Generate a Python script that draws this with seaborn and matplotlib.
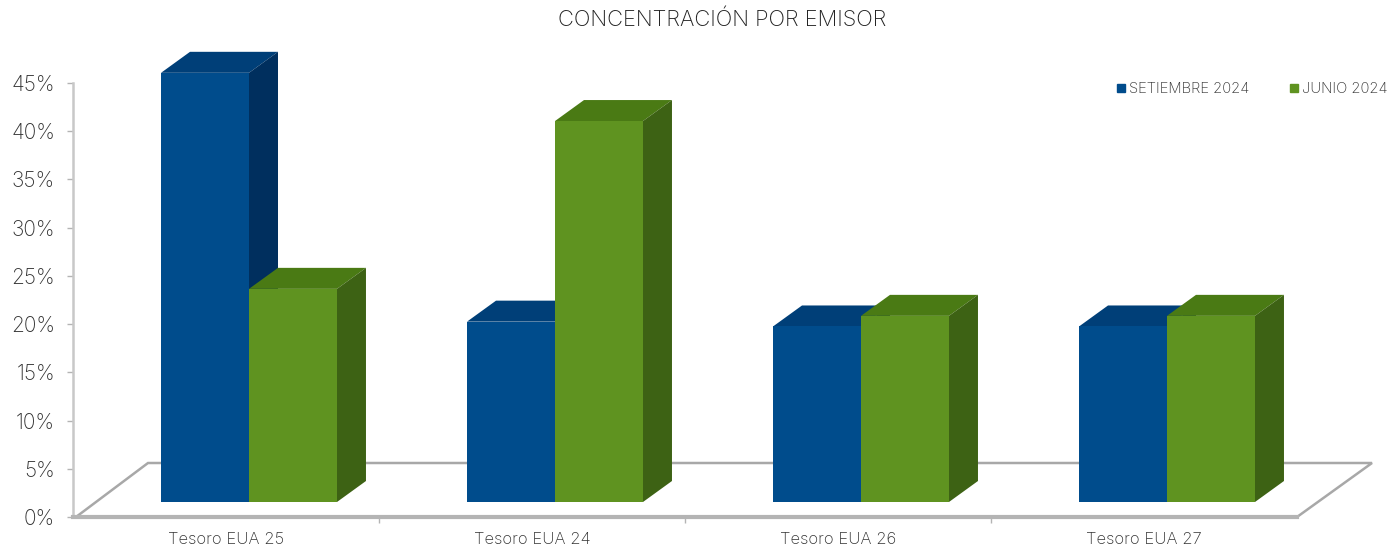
import pandas as pd
import seaborn as sns
import matplotlib.pyplot as plt
from matplotlib.patches import Polygon
from matplotlib.lines import Line2D

# Data
categories = ['Tesoro EUA 25', 'Tesoro EUA 24', 'Tesoro EUA 26', 'Tesoro EUA 27']
setiembre = [44.5, 18.7, 18.2, 18.2]
junio = [22.1, 39.5, 19.3, 19.3]
series_names = ['SETIEMBRE 2024', 'JUNIO 2024']
y_ticks = [0, 5, 10, 15, 20, 25, 30, 35, 40, 45]
y_tick_labels = ['0%', '5%', '10%', '15%', '20%', '25%', '30%', '35%', '40%', '45%']

blue = '#004C8C'
blue_top = '#003F78'
blue_side = '#002F5E'
green = '#5F9320'
green_top = '#4A7A14'
green_side = '#3D6214'
axis_gray = '#B4B4B4'
text_gray = '#333333'

sns.set_style('white')
plt.rcParams['font.family'] = ['Inter', 'DejaVu Sans']
plt.rcParams['font.weight'] = 'light'

Data = pd.DataFrame({
    'emisor': categories * 2,
    'valor': setiembre + junio,
    'serie': [series_names[0]] * 4 + [series_names[1]] * 4,
})

W, H = 1391, 549
fig = plt.figure(figsize=(W / 100, H / 100), dpi=100)
ax = fig.add_axes([73 / W, 1 - 517 / H, (1297 - 73) / W, (517 - 83) / H])

sns.barplot(data=Data, x='emisor', y='valor', hue='serie', hue_order=series_names,
            palette=[blue, green], width=0.575, saturation=1, linewidth=0,
            errorbar=None, ax=ax, zorder=3)
ax.set_xlim(-0.5, 3.5)
ax.set_ylim(0, 45)

# pixels -> data
px_x = 4 / (1297 - 73)
px_y = 45 / (517 - 83)
shift = 23 * px_x
floor = 15 * px_y
dx = 29 * px_x
dy = 21 * px_y
floor_dx = 75 * px_x
floor_dy = 54 * px_y

# floor of the 3d box
ax.plot([-0.5 + 3 * px_x, -0.5 + floor_dx, 3.5 + floor_dx, 3.5], [0, floor_dy, floor_dy, 0],
        color='#A8A8A8', lw=1.8, clip_on=False, zorder=1, solid_joinstyle='miter')

# 3d extrusion of each seaborn bar
bars = [b for b in ax.patches]
for n, bar in enumerate(bars):
    is_blue = n < 4
    z = 3 if is_blue else 4
    x0 = bar.get_x() + shift
    w = bar.get_width()
    top = bar.get_height() + floor
    bar.set_x(x0)
    bar.set_y(floor)
    bar.set_zorder(z + 0.5)
    bar.set_clip_on(False)
    ax.add_patch(Polygon([(x0, top), (x0 + dx, top + dy), (x0 + w + dx, top + dy), (x0 + w, top)],
                         facecolor=blue_top if is_blue else green_top, lw=0, clip_on=False, zorder=z))
    ax.add_patch(Polygon([(x0 + w, floor), (x0 + w + dx, floor + dy), (x0 + w + dx, top + dy), (x0 + w, top)],
                         facecolor=blue_side if is_blue else green_side, lw=0, clip_on=False, zorder=z))

# Axes
sns.despine(ax=ax, top=True, right=True)
ax.spines['left'].set_color('#C8C8C8')
ax.spines['left'].set_linewidth(1.8)
ax.spines['bottom'].set_color(axis_gray)
ax.spines['bottom'].set_linewidth(3)
ax.set_xlabel('')
ax.set_ylabel('')
ax.set_yticks(y_ticks)
ax.set_yticklabels(y_tick_labels, fontsize=15, color=text_gray)
ax.set_xticks([0.5, 1.5, 2.5], minor=True)
ax.tick_params(axis='x', which='major', length=0, pad=10.5, labelsize=12, labelcolor=text_gray)
ax.tick_params(axis='x', which='minor', length=4, width=1, color=axis_gray, bottom=True)
ax.tick_params(axis='y', length=4, width=1, color=axis_gray, left=True, pad=9)

# Legend
ax.get_legend().remove()
handles = [Line2D([], [], ls='', marker='s', ms=6, color=blue),
           Line2D([], [], ls='', marker='s', ms=6, color=green)]
fig.legend(handles, series_names, loc='center right', bbox_to_anchor=(1388 / W, 1 - 89 / H), ncol=2,
           frameon=False, fontsize=10.7, labelcolor=text_gray, handletextpad=-0.45,
           columnspacing=2.0, borderpad=0, borderaxespad=0)

fig.text(722 / W, 1 - 20 / H, 'CONCENTRACIÓN POR EMISOR', ha='center', va='center',
         fontsize=15.8, color='#222222')

fig.savefig('out.png', dpi=100)
